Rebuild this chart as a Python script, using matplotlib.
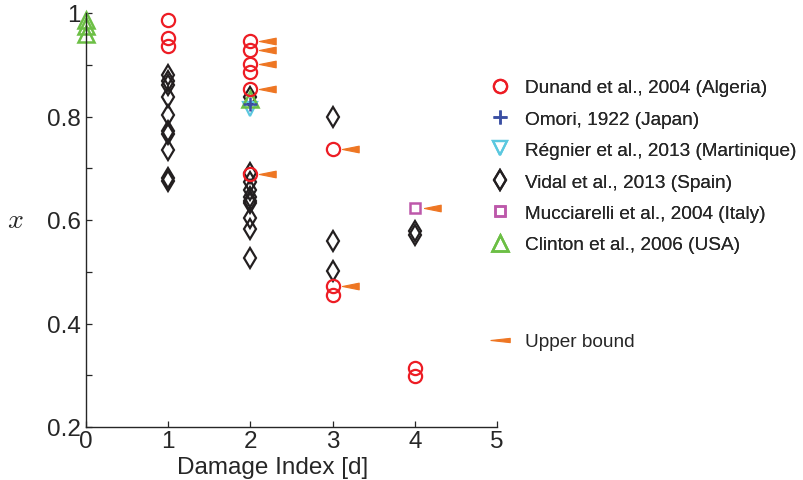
import matplotlib
matplotlib.use("Agg")
import matplotlib.pyplot as plt
from matplotlib.lines import Line2D

plt.rcParams['font.family'] = ['Liberation Sans', 'DejaVu Sans']
plt.rcParams['mathtext.fontset'] = 'cm'

# data
dunand_d = [1, 1, 1, 2, 2, 2, 2, 2, 2, 3, 3, 3, 4, 4]
dunand_x = [0.986, 0.951, 0.937, 0.946, 0.929, 0.901, 0.886, 0.853, 0.689,
            0.737, 0.472, 0.456, 0.314, 0.298]

omori_d = [2]
omori_x = [0.824]

regnier_d = [2]
regnier_x = [0.814]

vidal_d = [1] * 10 + [2] * 10 + [3] * 3 + [4] * 2
vidal_x = [0.880, 0.868, 0.860, 0.838, 0.803, 0.772, 0.767, 0.735, 0.681, 0.675,
           0.838, 0.690, 0.674, 0.658, 0.644, 0.637, 0.632, 0.603, 0.582, 0.527,
           0.800, 0.559, 0.501,
           0.579, 0.571]

mucc_d = [4]
mucc_x = [0.624]

clinton_d = [0, 0, 0, 2]
clinton_x = [0.987, 0.975, 0.960, 0.833]

upper_d = [2, 2, 2, 2, 2, 3, 3, 4]
upper_x = [0.946, 0.929, 0.901, 0.853, 0.689, 0.737, 0.472, 0.624]

xticks = [0, 1, 2, 3, 4, 5]
yticks = [0.2, 0.4, 0.6, 0.8, 1.0]
ytick_labels = ['0.2', '0.4', '0.6', '0.8', '1']

red = '#ED1C24'
blue = '#3A4FA3'
cyan = '#5BC8DF'
black = '#231F20'
magenta = '#BD58AA'
green = '#6CBF45'
orange = '#EE7623'

# flag shaped marker sitting to the right of the point
flag = [(0.35, 0), (1.0, 0.13), (1.0, -0.13), (0.35, 0)]
flag_leg = [(-1, 0), (1, 0.22), (1, -0.22), (-1, 0)]

# marker styles (shared by plot and legend)
st_dunand = dict(marker='o', color=red, markerfacecolor='none', markersize=9.5, markeredgewidth=1.6)
st_omori = dict(marker='+', color=blue, markersize=10, markeredgewidth=1.8)
st_regnier = dict(marker='v', color=cyan, markerfacecolor='none', markersize=10.5, markeredgewidth=1.6)
st_vidal = dict(marker='d', color=black, markerfacecolor='none', markersize=10, markeredgewidth=1.6)
st_mucc = dict(marker='s', color=magenta, markerfacecolor='none', markersize=7.5, markeredgewidth=1.8)
st_clinton = dict(marker='^', color=green, markerfacecolor='none', markersize=12, markeredgewidth=1.8)

fig = plt.figure(figsize=(8.04, 4.81), dpi=100)
ax = fig.add_axes([86 / 804, 53 / 481, 411 / 804, 414 / 481])

ax.plot(vidal_d, vidal_x, linestyle='none', clip_on=False, **st_vidal)
ax.plot(regnier_d, regnier_x, linestyle='none', clip_on=False, **st_regnier)
ax.plot(clinton_d, clinton_x, linestyle='none', clip_on=False, **st_clinton)
ax.plot(omori_d, omori_x, linestyle='none', clip_on=False, **st_omori)
ax.plot(mucc_d, mucc_x, linestyle='none', clip_on=False, **st_mucc)
ax.plot(dunand_d, dunand_x, linestyle='none', clip_on=False, **st_dunand)
ax.plot(upper_d, upper_x, linestyle='none', marker=flag, markersize=37, color=orange,
        markeredgewidth=0.8, clip_on=False)

ax.set_xlim(0, 5)
ax.set_ylim(0.2, 1.0)
ax.set_xticks(xticks)
ax.set_yticks(yticks)
ax.set_yticklabels(ytick_labels)
ax.set_yticks([0.3, 0.5, 0.7, 0.9], minor=True)

for s in ['top', 'right']:
    ax.spines[s].set_visible(False)
for s in ['left', 'bottom']:
    ax.spines[s].set_color('#262626')
    ax.spines[s].set_linewidth(1.0)

ax.tick_params(which='both', direction='in', length=4, width=0.9, colors='#262626',
               labelsize=17.5, labelcolor='#262626')
ax.tick_params(axis='x', pad=2)
ax.tick_params(axis='y', pad=4)

ax.set_xlabel('Damage Index [d]', fontsize=17.5, color='#262626')
ax.xaxis.set_label_coords(0.453, -0.07)
ax.set_ylabel('$x$', fontsize=20, rotation=0, color='#262626', va='center')
ax.yaxis.set_label_coords(-0.173, 0.5)

names = ['Dunand et al., 2004 (Algeria)', 'Omori, 1922 (Japan)',
         'Régnier et al., 2013 (Martinique)', 'Vidal et al., 2013 (Spain)',
         'Mucciarelli et al., 2004 (Italy)', 'Clinton et al., 2006 (USA)']
handles = [Line2D([], [], linestyle='none', **st) for st in
           [st_dunand, st_omori, st_regnier, st_vidal, st_mucc, st_clinton]]
leg1 = fig.legend(handles, names, loc='upper left', bbox_to_anchor=(490 / 804, 1 - 80 / 481),
                  frameon=False, fontsize=13.7, handlelength=1.1, handletextpad=0.75,
                  labelspacing=0.74, borderpad=0, borderaxespad=0, labelcolor='#262626')
fig.add_artist(leg1)

ub = Line2D([], [], linestyle='none', marker=flag_leg, markersize=14, color=orange, markeredgewidth=0.8)
fig.legend([ub], ['Upper bound'], loc='upper left', bbox_to_anchor=(490 / 804, 1 - 334 / 481),
           frameon=False, fontsize=13.7, handlelength=1.1, handletextpad=0.75,
           borderpad=0, borderaxespad=0, labelcolor='#262626')

fig.savefig('out.png', dpi=100)
